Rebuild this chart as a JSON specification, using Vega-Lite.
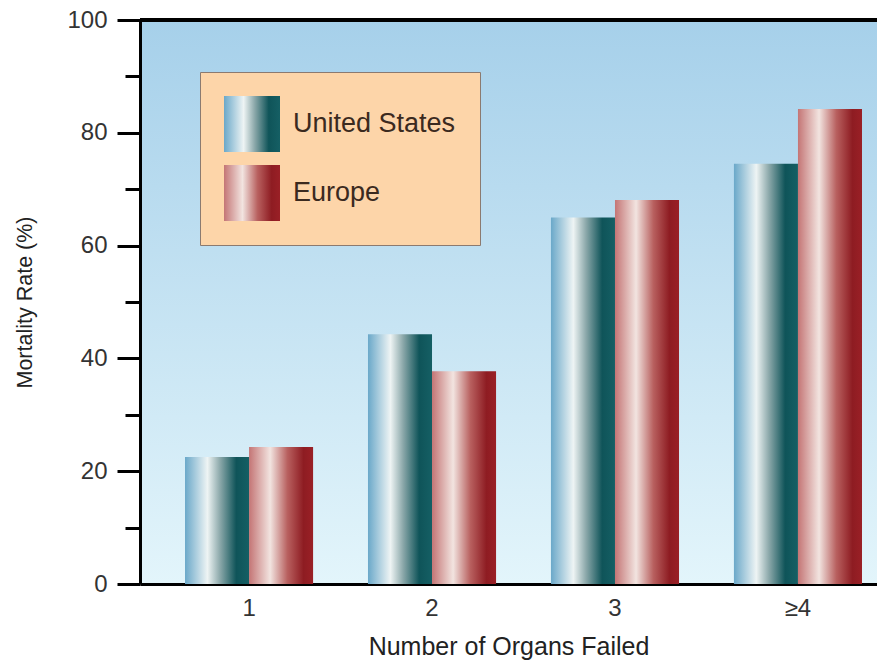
{
  "$schema": "https://vega.github.io/schema/vega-lite/v6.json",
  "autosize": "none",
  "width": 737,
  "height": 564,
  "padding": {"left": 140, "top": 20, "right": 0, "bottom": 81},
  "background": "white",
  "config": {
    "font": "Liberation Sans",
    "view": {
      "stroke": null,
      "fill": {"id": "grad_bg", "gradient": "linear", "x1": 0, "y1": 0, "x2": 0, "y2": 1,
        "stops": [{"offset": 0, "color": "#a6d0ea"}, {"offset": 1, "color": "#e3f5fb"}]}
    }
  },
  "data": {
    "values": [
      {"organs": "1", "region": "United States", "rate": 22.5},
      {"organs": "1", "region": "Europe", "rate": 24.3},
      {"organs": "2", "region": "United States", "rate": 44.3},
      {"organs": "2", "region": "Europe", "rate": 37.7},
      {"organs": "3", "region": "United States", "rate": 65.0},
      {"organs": "3", "region": "Europe", "rate": 68.1},
      {"organs": "≥4", "region": "United States", "rate": 74.5},
      {"organs": "≥4", "region": "Europe", "rate": 84.2}
    ]
  },
  "layer": [
    {
      "mark": {
        "type": "bar",
        "strokeWidth": 0,
        "fill": {"expr": "(datum.region === 'Europe' || datum.value === 'Europe' || datum.label === 'Europe') ? {id: 'grad_eu', gradient: 'linear', x1: 0, y1: 0, x2: 1, y2: 0, stops: [{offset: 0, color: '#c47575'}, {offset: 0.33, color: '#f2e4e0'}, {offset: 0.6, color: '#b8605f'}, {offset: 0.85, color: '#8e1c22'}, {offset: 1, color: '#9a2026'}]} : {id: 'grad_us', gradient: 'linear', x1: 0, y1: 0, x2: 1, y2: 0, stops: [{offset: 0, color: '#6aa8c9'}, {offset: 0.35, color: '#eef4f4'}, {offset: 0.55, color: '#8aa7a9'}, {offset: 0.8, color: '#0f5459'}, {offset: 1, color: '#155f64'}]}"}
      },
      "encoding": {
        "x": {
          "field": "organs", "type": "nominal", "sort": ["1", "2", "3", "≥4"],
          "scale": {"paddingInner": 0.3, "paddingOuter": 0.164, "align": 0.75},
          "axis": {
            "title": "Number of Organs Failed", "titleFontSize": 25, "titleFontWeight": "normal",
            "titleColor": "#222", "titlePadding": 14,
            "labelAngle": 0, "labelFontSize": 24, "labelColor": "#333", "labelPadding": 12,
            "ticks": false, "domainColor": "black", "domainWidth": 3
          }
        },
        "xOffset": {
          "field": "region", "type": "nominal",
          "scale": {"domain": ["United States", "Europe"], "paddingInner": 0, "paddingOuter": 0}
        },
        "y": {
          "field": "rate", "type": "quantitative",
          "scale": {"domain": [0, 100], "nice": false},
          "axis": {
            "title": "Mortality Rate (%)", "titleFontSize": 21.5, "titleFontWeight": "normal",
            "titleColor": "#222", "titlePadding": 30,
            "values": [0, 10, 20, 30, 40, 50, 60, 70, 80, 90, 100],
            "labelExpr": "datum.value % 20 === 0 ? datum.label : ''",
            "labelFontSize": 24, "labelColor": "#333", "labelPadding": 10,
            "grid": false, "domainColor": "black", "domainWidth": 3,
            "tickColor": "black", "tickWidth": 3,
            "tickSize": {"condition": {"test": "datum.value % 20 === 0", "value": 23}, "value": 15}
          }
        },
        "stroke": {
          "field": "region", "type": "nominal",
          "scale": {"domain": ["United States", "Europe"], "range": ["#1f6b6e", "#a02a30"]},
          "legend": {
            "title": null, "orient": "none", "legendX": 60, "legendY": 52,
            "padding": 24, "rowPadding": 13,
            "symbolType": "square", "symbolSize": 3136, "symbolStrokeWidth": 0,
            "labelFontSize": 27, "labelColor": "#3b2a1f", "labelOffset": 13, "labelLimit": 400,
            "fillColor": "#fdd5a9", "strokeColor": "#8b7a70",
            "encode": {
              "legend": {"update": {"strokeWidth": {"value": 3}}},
              "symbols": {"update": {
                "opacity": {"value": 1},
                "strokeWidth": {"value": 0}
              }}
            }
          }
        }
      }
    },
    {
      "mark": {"type": "rule", "color": "black", "strokeWidth": 3},
      "encoding": {"y": {"datum": 100}}
    }
  ]
}
